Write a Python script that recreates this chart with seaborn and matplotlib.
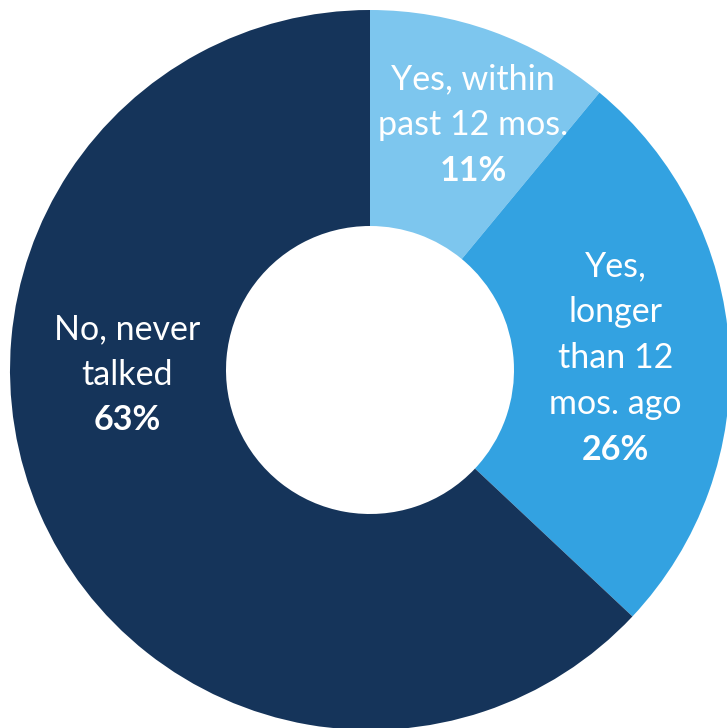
import matplotlib.pyplot as plt
import seaborn as sns

# data
categories = ['Yes, within past 12 mos.', 'Yes, longer than 12 mos. ago', 'No, never talked']
shares = [11, 26, 63]
label_lines = [['Yes, within', 'past 12 mos.'],
               ['Yes,', 'longer', 'than 12', 'mos. ago'],
               ['No, never', 'talked']]
colors = ['#7DC6EE', '#33A2E1', '#15345A']

sns.set_theme(style='white')
plt.rcParams['font.family'] = ['Lato', 'DejaVu Sans']

fig = plt.figure(figsize=(7.27, 7.28), dpi=100)
ax = fig.add_axes([10 / 727, -2 / 728, 720 / 727, 720 / 728])

ax.pie(shares, colors=colors, startangle=90, counterclock=False,
       radius=1, wedgeprops=dict(width=0.6, edgecolor='none'))

# label anchors (top line center), in axis data units
anchors = [(0.286, 0.808), (0.682, 0.287), (-0.675, 0.114)]
step = 0.127
for (x, y), lines, pct in zip(anchors, label_lines, shares):
    for i, ln in enumerate(lines):
        ax.text(x, y - i * step, ln, ha='center', va='center',
                color='white', fontsize=24.5)
    ax.text(x, y - len(lines) * step, f'{pct}%', ha='center', va='center',
            color='white', fontsize=24.5, fontweight='bold')

ax.set_xlim(-1, 1)
ax.set_ylim(-1, 1)
ax.set_aspect('equal')
ax.axis('off')

fig.savefig('out.png', dpi=100)
